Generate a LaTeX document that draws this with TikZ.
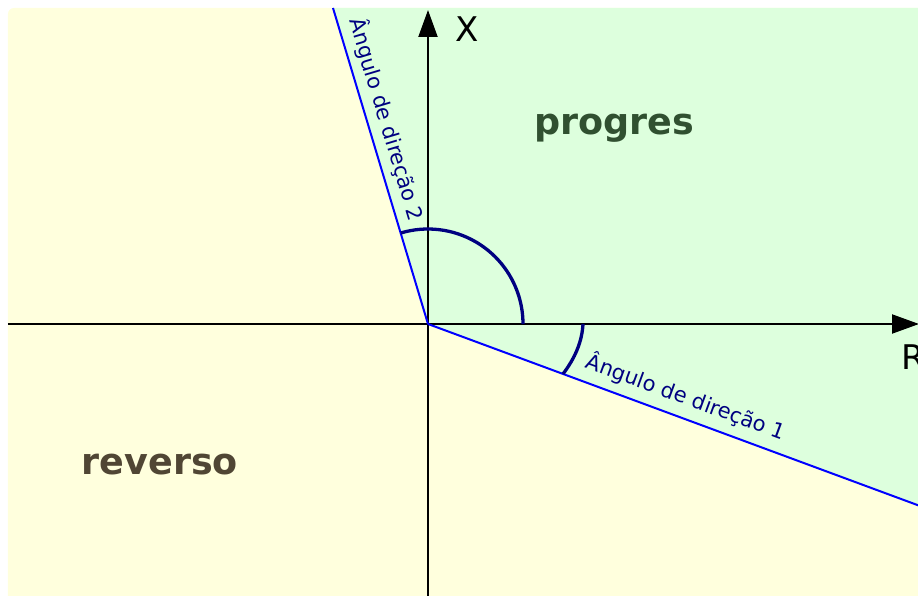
\documentclass[tikz,border=0pt]{standalone}
\usepackage{fontspec}
\setmainfont{DejaVu Sans}
\usetikzlibrary{arrows.meta}

\definecolor{bgyellow}{RGB}{255,255,221}
\definecolor{bggreen}{RGB}{221,255,221}
\definecolor{progcol}{RGB}{48,80,48}
\definecolor{revcol}{RGB}{80,70,52}
\definecolor{arcnavy}{RGB}{0,0,128}

\begin{document}
\begin{tikzpicture}[
  x=1pt, y=1pt,
  axis/.style={line width=2pt, -{Triangle[length=27pt,width=19pt]}},
  dirline/.style={blue, line width=2pt},
  anglearc/.style={draw=arcnavy, line width=3.3pt},
  anglelabel/.style={text=arcnavy, font=\fontsize{21}{25}\selectfont, sloped, above=#1},
  axislabel/.style={font=\fontsize{34}{40}\selectfont},
  region/.style={text=#1, font=\bfseries\fontsize{36.5}{42}\selectfont, anchor=base}
]
\clip (-428,-272) rectangle (490,324);

% origin and ends of the two direction lines
\coordinate (O) at (0,0);
\coordinate (d1) at (-20.3:540);
\coordinate (d2) at (-95,316);

% background regions
\fill[bgyellow, rounded corners=6pt] (-420,-300) rectangle (540,316);
\fill[bggreen] (O) -- (d1) -- (540,-200) -- (540,316) -- (d2) -- cycle;

% axes
\coordinate (Xbot) at (0,-272);
\coordinate (Xtop) at (0,314);
\coordinate (Rleft) at (-420,0);
\coordinate (Rright) at (491,0);
\draw[axis] (Xbot) -- (Xtop);
\draw[axis] (Rleft) -- (Rright);
\node[axislabel] (xlab) at (39.5,294.5) {X};
\node[axislabel] (rlab) at (485,-33) {R};

% direction lines
\draw[dirline] (d2) -- node[anglelabel=3pt, pos=0.37] (lab2) {Ângulo de direção 2} (O);
\draw[dirline] (O) -- node[anglelabel=5pt, pos=0.495] (lab1) {Ângulo de direção 1} (d1);

% angle arcs
\draw[anglearc] (95,0) arc[start angle=0, end angle=106.7, radius=95];
\draw[anglearc] (155,0) .. controls (154,-18) and (147,-34) .. (135,-50);

% region names
\node[region=progcol] (prog) at (186,189) {progres};
\node[region=revcol] (rev) at (-268,-151) {reverso};

\end{tikzpicture}
\end{document}
